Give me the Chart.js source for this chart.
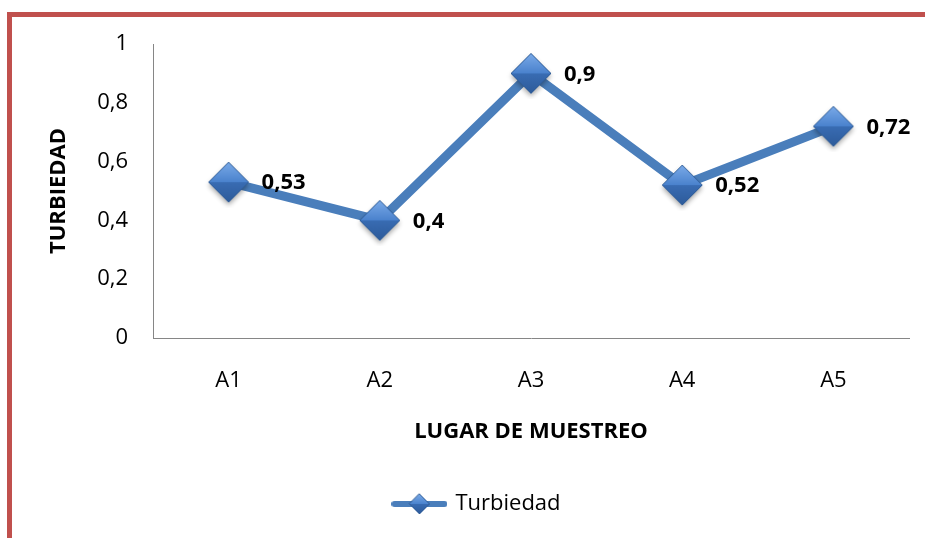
<!DOCTYPE html>
<html>
<head>
<meta charset="utf-8">
<script src="https://cdn.jsdelivr.net/npm/chart.js@4"></script>
<style>
  html, body { margin: 0; padding: 0; background: #fff; }
  #wrap { position: relative; width: 925px; height: 538px; overflow: hidden; }
  #frame { position: absolute; left: 7px; top: 12px; right: -10px; bottom: -10px;
           border-top: 5px solid #c0504d; border-left: 5px solid #c0504d; }
  canvas { position: absolute; left: 0; top: 0; }
</style>
</head>
<body>
<div id="wrap">
  <div id="frame"></div>
  <canvas id="chart" width="925" height="538"></canvas>
</div>
<script>
const categories = ["A1", "A2", "A3", "A4", "A5"];
const turbiedad = [0.53, 0.4, 0.9, 0.52, 0.72];
const yTicks = [0, 0.2, 0.4, 0.6, 0.8, 1];
const seriesName = "Turbiedad";
const xTitle = "LUGAR DE MUESTREO";
const yTitle = "TURBIEDAD";

const FONT = '"Open Sans", "DejaVu Sans", sans-serif';
const BLUE = '#4a7ebb';

function comma(v) {
  return String(v).replace('.', ',');
}

// diamond marker: light top half, darker bottom half, soft shadow
function drawDiamond(ctx, cx, cy, r, shadow) {
  ctx.save();
  if (shadow) {
    ctx.shadowColor = 'rgba(0,0,0,0.35)';
    ctx.shadowBlur = 5;
    ctx.shadowOffsetY = 3;
  }
  ctx.beginPath();
  ctx.moveTo(cx, cy - r);
  ctx.lineTo(cx + r, cy);
  ctx.lineTo(cx, cy + r);
  ctx.lineTo(cx - r, cy);
  ctx.closePath();
  ctx.fillStyle = '#3e70b4';
  ctx.fill();
  ctx.restore();

  // top half
  let g = ctx.createLinearGradient(cx, cy - r, cx, cy);
  g.addColorStop(0, '#7aaae8');
  g.addColorStop(1, '#4a82cd');
  ctx.beginPath();
  ctx.moveTo(cx, cy - r);
  ctx.lineTo(cx + r, cy);
  ctx.lineTo(cx - r, cy);
  ctx.closePath();
  ctx.fillStyle = g;
  ctx.fill();

  // bottom half
  g = ctx.createLinearGradient(cx, cy, cx, cy + r);
  g.addColorStop(0, '#396cb3');
  g.addColorStop(1, '#2d5b9a');
  ctx.beginPath();
  ctx.moveTo(cx - r, cy);
  ctx.lineTo(cx + r, cy);
  ctx.lineTo(cx, cy + r);
  ctx.closePath();
  ctx.fillStyle = g;
  ctx.fill();

  ctx.beginPath();
  ctx.moveTo(cx, cy - r);
  ctx.lineTo(cx + r, cy);
  ctx.lineTo(cx, cy + r);
  ctx.lineTo(cx - r, cy);
  ctx.closePath();
  ctx.strokeStyle = '#2f5d98';
  ctx.lineWidth = 1;
  ctx.stroke();
}

function markerImage() {
  const c = document.createElement('canvas');
  c.width = 52;
  c.height = 52;
  drawDiamond(c.getContext('2d'), 26, 26, 20, true);
  return c;
}

function legendImage() {
  const c = document.createElement('canvas');
  c.width = 56;
  c.height = 26;
  const ctx = c.getContext('2d');
  ctx.strokeStyle = BLUE;
  ctx.lineWidth = 6;
  ctx.lineCap = 'round';
  ctx.beginPath();
  ctx.moveTo(3, 13);
  ctx.lineTo(53, 13);
  ctx.stroke();
  drawDiamond(ctx, 28, 13, 10, false);
  return c;
}

// value labels to the right of each point
const valueLabels = {
  id: 'valueLabels',
  afterDatasetsDraw(chart) {
    const ctx = chart.ctx;
    const meta = chart.getDatasetMeta(0);
    ctx.save();
    ctx.font = 'bold 22px ' + FONT;
    ctx.fillStyle = '#000';
    ctx.textAlign = 'left';
    ctx.textBaseline = 'middle';
    meta.data.forEach((pt, i) => {
      ctx.fillText(comma(turbiedad[i]), pt.x + 33, pt.y + 1);
    });
    ctx.restore();
  }
};

const legendIcon = legendImage();

new Chart(document.getElementById('chart'), {
  type: 'line',
  data: {
    labels: categories,
    datasets: [{
      label: seriesName,
      data: turbiedad,
      borderColor: BLUE,
      backgroundColor: BLUE,
      borderWidth: 9,
      tension: 0,
      fill: false,
      pointStyle: markerImage(),
      pointRadius: 20,
      pointHoverRadius: 20
    }]
  },
  options: {
    responsive: false,
    animation: false,
    layout: {
      autoPadding: false,
      padding: { top: 44, left: 46, right: 16, bottom: 13 }
    },
    scales: {
      x: {
        offset: true,
        grid: { display: false, drawTicks: false },
        border: { display: true, color: '#868686', width: 1 },
        ticks: {
          color: '#000',
          padding: 30,
          font: { family: FONT, size: 22 }
        },
        title: {
          display: true,
          text: xTitle,
          color: '#000',
          font: { family: FONT, size: 22, weight: 'bold' },
          padding: { top: 0, bottom: 38 }
        },
        afterFit: (s) => { s.height = 145; }
      },
      y: {
        min: 0,
        max: 1,
        afterBuildTicks: (s) => { s.ticks = yTicks.map(v => ({ value: v })); },
        grid: { display: false, drawTicks: false },
        border: { display: true, color: '#868686', width: 1 },
        ticks: {
          color: '#000',
          padding: 25,
          font: { family: FONT, size: 22 },
          callback: (v) => comma(v)
        },
        title: {
          display: true,
          text: yTitle,
          color: '#000',
          font: { family: FONT, size: 22, weight: 'bold' },
          padding: { top: 0, bottom: 0 }
        },
        afterFit: (s) => { s.width = 107; }
      }
    },
    plugins: {
      legend: {
        position: 'bottom',
        labels: {
          color: '#000',
          font: { family: FONT, size: 22 },
          usePointStyle: true,
          pointStyleWidth: 50,
          generateLabels: (chart) => [{
            text: seriesName,
            pointStyle: legendIcon,
            fillStyle: BLUE,
            strokeStyle: BLUE,
            lineWidth: 0,
            datasetIndex: 0
          }]
        }
      },
      tooltip: { enabled: false }
    }
  },
  plugins: [valueLabels]
});
</script>
</body>
</html>
